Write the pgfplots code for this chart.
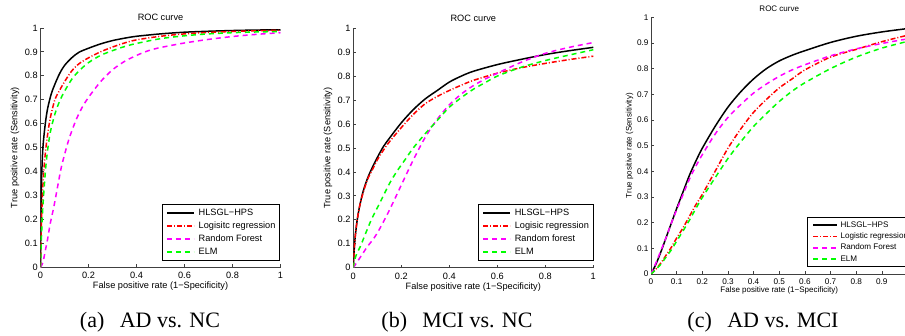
\documentclass[border=0pt]{standalone}
\usepackage{pgfplots}
\pgfplotsset{compat=1.18}
\usepackage{fontspec}
\setmainfont{Liberation Sans}
\newfontfamily\capfont{Liberation Serif}
\definecolor{mred}{rgb}{1,0,0}
\definecolor{mmag}{rgb}{1,0,1}
\definecolor{mgreen}{rgb}{0,1,0}

\pgfplotsset{
  every axis title shift=0pt,
  rocbase/.style={
    scale only axis,
    xmin=0, xmax=1, ymin=0, ymax=1,
    axis lines=left,
    axis line style={-, black!75, line width=0.7pt},
    tick style={black!75, line width=0.7pt},
    tick align=inside,
    major tick length=3pt,
    /pgf/number format/assume math mode=true,
    ytick={0,0.1,0.2,0.3,0.4,0.5,0.6,0.7,0.8,0.9,1},
    title={ROC curve},
    xlabel={False positive rate (1−Specificity)},
    ylabel={True positive rate (Sensitivity)},
    legend cell align=left,
    legend image code/.code={\draw[##1, line width=1.5pt] (0pt,0pt) -- (27pt,0pt);},
    clip=true,
  },
  rocab/.style={
    rocbase,
    width=240pt, height=239.5pt,
    xtick={0,0.2,0.4,0.6,0.8,1},
    tick label style={font=\fontsize{9.2}{11}\selectfont},
    xticklabel style={yshift=-1.5pt},
    yticklabel style={xshift=0.7pt},
    title style={at={(axis description cs:0.5,1.029)}, anchor=base, font=\fontsize{9.2}{11}\selectfont},
    xlabel style={at={(axis description cs:0.5,-0.09)}, anchor=base, font=\fontsize{9.2}{11}\selectfont},
    ylabel style={at={(axis description cs:-0.096,0.5)}, anchor=base, font=\fontsize{9.2}{11}\selectfont},
    legend style={font=\fontsize{9.2}{11}\selectfont, draw=black, line width=0.7pt,
      at={(axis description cs:0.997,0.027)}, anchor=south east,
      inner xsep=4pt, inner ysep=4.2pt, row sep=4.5pt, column sep=4pt,
      nodes={inner sep=0pt, text height=6.6pt, text depth=1.9pt}},
  },
  rocc/.style={
    rocbase,
    width=256.5pt, height=256.7pt,
    xtick={0,0.1,0.2,0.3,0.4,0.5,0.6,0.7,0.8,0.9},
    tick label style={font=\fontsize{8.2}{10}\selectfont},
    xticklabel style={yshift=-1.4pt},
    yticklabel style={xshift=1pt},
    title style={at={(axis description cs:0.5,1.021)}, anchor=base, font=\fontsize{8}{10}\selectfont},
    xlabel style={at={(axis description cs:0.5,-0.074)}, anchor=base, font=\fontsize{8}{10}\selectfont},
    ylabel style={at={(axis description cs:-0.0755,0.5)}, anchor=base, font=\fontsize{8}{10}\selectfont},
    legend style={font=\fontsize{8.1}{10}\selectfont, draw=black, line width=0.7pt,
      at={(axis description cs:0.608,0.027)}, anchor=south west,
      inner xsep=5pt, inner ysep=3.8pt, row sep=3.8pt, column sep=2.6pt,
      nodes={inner sep=0pt, text height=5.8pt, text depth=1.7pt}},
    legend image code/.code={\draw[##1, line width=1.6pt] (0pt,0pt) -- (24pt,0pt);},
  },
  hls/.style={black, solid, line width=1.5pt, smooth, tension=0.5},
  lrs/.style={mred, line width=1.5pt, dash pattern=on 5pt off 2pt on 1pt off 2pt, smooth, tension=0.5},
  rfs/.style={mmag, line width=1.5pt, dash pattern=on 5pt off 4pt, smooth, tension=0.5},
  elm/.style={mgreen, line width=1.5pt, dash pattern=on 5pt off 4pt, smooth, tension=0.5},
}

\begin{document}
\begin{tikzpicture}
\begin{scope}
\clip (0pt,0pt) rectangle (905pt,336pt);

% ---------------- (a) AD vs. NC ----------------
\begin{axis}[rocab, at={(40.5pt,68.6pt)}, anchor=south west]
\addplot[hls] coordinates {(0,0) (0.002,0.2) (0.005,0.38) (0.01,0.5) (0.02,0.6) (0.03,0.665) (0.045,0.725) (0.06,0.765) (0.08,0.81) (0.1,0.843) (0.13,0.875) (0.16,0.898) (0.2,0.915) (0.25,0.933) (0.3,0.947) (0.35,0.957) (0.4,0.965) (0.5,0.975) (0.6,0.982) (0.7,0.986) (0.8,0.989) (0.9,0.991) (1,0.992)};
\addlegendentry{HLSGL−HPS}
\addplot[lrs] coordinates {(0,0) (0.003,0.15) (0.008,0.3) (0.015,0.42) (0.025,0.52) (0.04,0.62) (0.06,0.7) (0.08,0.74) (0.1,0.775) (0.13,0.82) (0.16,0.85) (0.2,0.875) (0.25,0.9) (0.3,0.92) (0.35,0.937) (0.4,0.95) (0.5,0.965) (0.6,0.975) (0.7,0.981) (0.8,0.985) (0.9,0.988) (1,0.99)};
\addlegendentry{Logisitc regression}
\addplot[rfs] coordinates {(0,0) (0.01,0.02) (0.02,0.07) (0.03,0.12) (0.04,0.18) (0.055,0.25) (0.07,0.33) (0.085,0.41) (0.1,0.47) (0.12,0.54) (0.15,0.62) (0.18,0.68) (0.2,0.71) (0.25,0.775) (0.3,0.825) (0.35,0.86) (0.4,0.885) (0.45,0.905) (0.5,0.918) (0.6,0.937) (0.7,0.952) (0.8,0.964) (0.9,0.973) (1,0.98)};
\addlegendentry{Random Forest}
\addplot[elm] coordinates {(0,0) (0.003,0.1) (0.008,0.22) (0.015,0.33) (0.025,0.45) (0.04,0.56) (0.06,0.64) (0.08,0.695) (0.1,0.735) (0.13,0.785) (0.16,0.82) (0.2,0.855) (0.25,0.885) (0.3,0.905) (0.35,0.922) (0.4,0.935) (0.5,0.955) (0.6,0.967) (0.7,0.975) (0.8,0.98) (0.9,0.983) (1,0.985)};
\addlegendentry{ELM}
\end{axis}

% ---------------- (b) MCI vs. NC ----------------
\begin{axis}[rocab, at={(353.3pt,68.3pt)}, anchor=south west,
  legend style={at={(axis description cs:1,0.028)}}]
\addplot[hls] coordinates {(0,0) (0.003,0.06) (0.007,0.12) (0.015,0.19) (0.025,0.25) (0.04,0.315) (0.06,0.375) (0.08,0.42) (0.1,0.46) (0.125,0.505) (0.15,0.54) (0.2,0.605) (0.25,0.66) (0.3,0.705) (0.35,0.74) (0.4,0.775) (0.45,0.8) (0.5,0.82) (0.6,0.848) (0.7,0.87) (0.8,0.89) (0.9,0.906) (1,0.92)};
\addlegendentry{HLSGL−HPS}
\addplot[lrs] coordinates {(0,0) (0.003,0.06) (0.007,0.12) (0.015,0.19) (0.025,0.25) (0.04,0.31) (0.06,0.37) (0.08,0.41) (0.1,0.45) (0.125,0.49) (0.15,0.525) (0.2,0.585) (0.25,0.64) (0.3,0.685) (0.35,0.715) (0.4,0.74) (0.45,0.762) (0.5,0.782) (0.6,0.812) (0.7,0.835) (0.8,0.853) (0.9,0.869) (1,0.883)};
\addlegendentry{Logisic regression}
\addplot[rfs] coordinates {(0,0) (0.02,0.03) (0.04,0.06) (0.06,0.09) (0.08,0.115) (0.1,0.145) (0.13,0.2) (0.16,0.26) (0.2,0.345) (0.25,0.45) (0.3,0.545) (0.35,0.62) (0.4,0.68) (0.45,0.725) (0.5,0.76) (0.55,0.788) (0.6,0.812) (0.7,0.858) (0.8,0.895) (0.9,0.92) (1,0.94)};
\addlegendentry{Random forest}
\addplot[elm] coordinates {(0,0) (0.005,0.03) (0.015,0.06) (0.03,0.09) (0.05,0.14) (0.075,0.2) (0.1,0.25) (0.125,0.3) (0.15,0.35) (0.18,0.4) (0.215,0.45) (0.25,0.5) (0.3,0.56) (0.35,0.615) (0.4,0.67) (0.45,0.71) (0.5,0.745) (0.55,0.773) (0.6,0.8) (0.7,0.837) (0.8,0.865) (0.9,0.888) (1,0.91)};
\addlegendentry{ELM}
\end{axis}

% ---------------- (c) AD vs. MCI ----------------
\begin{axis}[rocc, at={(651pt,62pt)}, anchor=south west]
\addplot[hls] coordinates {(0,0) (0.02,0.04) (0.04,0.09) (0.06,0.145) (0.08,0.2) (0.1,0.255) (0.125,0.32) (0.15,0.385) (0.175,0.44) (0.2,0.49) (0.25,0.575) (0.3,0.65) (0.35,0.71) (0.4,0.76) (0.45,0.8) (0.5,0.83) (0.55,0.852) (0.6,0.87) (0.7,0.902) (0.8,0.926) (0.9,0.943) (1,0.956)};
\addlegendentry{HLSGL−HPS}
\addplot[lrs] coordinates {(0,0) (0.02,0.02) (0.04,0.045) (0.06,0.075) (0.08,0.105) (0.1,0.14) (0.125,0.18) (0.15,0.225) (0.175,0.27) (0.2,0.31) (0.25,0.4) (0.3,0.49) (0.35,0.565) (0.4,0.63) (0.45,0.68) (0.5,0.725) (0.55,0.76) (0.6,0.795) (0.7,0.845) (0.8,0.875) (0.9,0.905) (1,0.93)};
\addlegendentry{Logistic regression}
\addplot[rfs] coordinates {(0,0) (0.02,0.045) (0.04,0.095) (0.06,0.145) (0.08,0.2) (0.1,0.25) (0.125,0.31) (0.15,0.37) (0.175,0.42) (0.2,0.465) (0.25,0.545) (0.3,0.61) (0.35,0.66) (0.4,0.705) (0.45,0.74) (0.5,0.77) (0.55,0.795) (0.6,0.815) (0.7,0.85) (0.8,0.877) (0.9,0.898) (1,0.916)};
\addlegendentry{Random Forest}
\addplot[elm] coordinates {(0,0) (0.02,0.018) (0.04,0.04) (0.06,0.068) (0.08,0.095) (0.1,0.128) (0.125,0.168) (0.15,0.21) (0.175,0.255) (0.2,0.298) (0.25,0.375) (0.3,0.45) (0.35,0.515) (0.4,0.575) (0.45,0.625) (0.5,0.672) (0.55,0.712) (0.6,0.745) (0.7,0.8) (0.8,0.845) (0.9,0.88) (1,0.906)};
\addlegendentry{ELM}
\end{axis}

% ---------------- captions ----------------
\node[font=\capfont\fontsize{22}{26}\selectfont, anchor=base] at (150pt,8pt) {(a)\hspace{0.7em}AD vs. NC};
\node[font=\capfont\fontsize{22}{26}\selectfont, anchor=base] at (457pt,8pt) {(b)\hspace{0.7em}MCI vs. NC};
\node[font=\capfont\fontsize{22}{26}\selectfont, anchor=base] at (763pt,8pt) {(c)\hspace{0.7em}AD vs. MCI};
\end{scope}

\pgfresetboundingbox
\path (0pt,0pt) rectangle (905pt,336pt);
\end{tikzpicture}
\end{document}
